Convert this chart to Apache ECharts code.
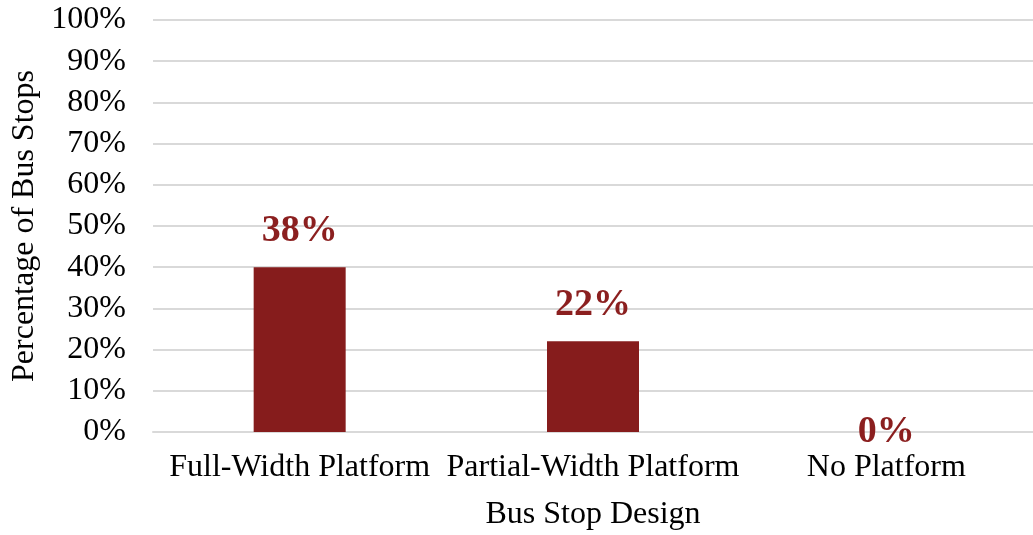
<!DOCTYPE html>
<html>
<head>
<meta charset="utf-8">
<script src="https://cdn.jsdelivr.net/npm/echarts@6/dist/echarts.min.js"></script>
<style>
html,body{margin:0;padding:0;background:#fff;}
#chart{width:1033px;height:535px;}
</style>
</head>
<body>
<div id="chart"></div>
<script>
var categories = ['Full-Width Platform', 'Partial-Width Platform', 'No Platform'];
var barValues = [40, 22, 0];
var barLabels = ['38%', '22%', '0%'];
var yTicks = [0, 10, 20, 30, 40, 50, 60, 70, 80, 90, 100];

var FONT = 'Liberation Serif, Times New Roman, serif';
var chart = echarts.init(document.getElementById('chart'), null, {renderer: 'canvas'});

var data = barValues.map(function (v, i) {
  var item = {value: v, label: {formatter: barLabels[i]}};
  if (v === 0) { item.label.offset = [0, 36]; }
  return item;
});

chart.setOption({
  animation: false,
  backgroundColor: '#fff',
  grid: {left: 153, right: 0, top: 20, bottom: 103, containLabel: false, outerBoundsMode: 'none'},
  xAxis: {
    type: 'category',
    data: categories,
    name: 'Bus Stop Design',
    nameLocation: 'middle',
    nameGap: 67,
    nameTextStyle: {fontFamily: FONT, fontSize: 32, color: '#000'},
    axisLine: {lineStyle: {color: '#d9d9d9', width: 2}},
    axisTick: {show: false},
    axisLabel: {fontFamily: FONT, fontSize: 32, color: '#000', margin: 20, interval: 0}
  },
  yAxis: {
    type: 'value',
    min: yTicks[0],
    max: yTicks[yTicks.length - 1],
    interval: 10,
    name: 'Percentage of Bus Stops',
    nameLocation: 'middle',
    nameGap: 108,
    nameTextStyle: {fontFamily: FONT, fontSize: 32, color: '#000'},
    axisLine: {show: false},
    axisTick: {show: false},
    splitLine: {lineStyle: {color: '#d9d9d9', width: 2}},
    axisLabel: {fontFamily: FONT, fontSize: 32, color: '#000', margin: 27, formatter: '{value}%'}
  },
  series: [{
    type: 'bar',
    data: data,
    barWidth: 92,
    itemStyle: {color: '#861c1c'},
    label: {
      show: true,
      position: 'top',
      distance: 17,
      fontFamily: FONT,
      fontSize: 38,
      fontWeight: 'bold',
      color: '#8b1f1f'
    }
  }]
});
</script>
</body>
</html>
